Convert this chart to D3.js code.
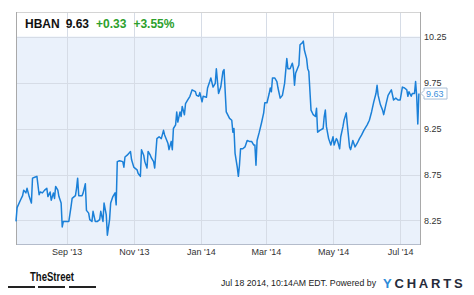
<!DOCTYPE html>
<html>
<head>
<meta charset="utf-8">
<title>HBAN</title>
<style>
  body { margin: 0; background: #fff; }
  svg { display: block; font-family: "Liberation Sans", Arial, sans-serif; }
  .tick text { font-size: 9px; fill: #333; }
</style>
</head>
<body>
<div id="chart"></div>
<script src="https://d3js.org/d3.v7.min.js"></script>
<script>
// --- data ---
var ticker = 'HBAN';
var lastPrice = '9.63';
var change = '+0.33';
var changePct = '+3.55%';
var yTicks = [8.25, 8.75, 9.25, 9.75, 10.25];

var dates = [
  '2013-07-17','2013-07-18','2013-07-21','2013-07-23','2013-07-24','2013-07-26','2013-07-27','2013-07-29','2013-07-31','2013-08-01',
  '2013-08-03','2013-08-05','2013-08-07','2013-08-08','2013-08-10','2013-08-12','2013-08-14','2013-08-15','2013-08-17','2013-08-18',
  '2013-08-20','2013-08-21','2013-08-22','2013-08-24','2013-08-25','2013-08-27','2013-08-28','2013-08-29','2013-09-01','2013-09-03',
  '2013-09-05','2013-09-06','2013-09-09','2013-09-10','2013-09-11','2013-09-12','2013-09-15','2013-09-16','2013-09-18','2013-09-19',
  '2013-09-21','2013-09-22','2013-09-24','2013-09-25','2013-09-27','2013-09-29','2013-10-01','2013-10-02','2013-10-04','2013-10-05',
  '2013-10-07','2013-10-08','2013-10-10','2013-10-11','2013-10-13','2013-10-15','2013-10-16','2013-10-17','2013-10-19','2013-10-22',
  '2013-10-23','2013-10-24','2013-10-26','2013-10-29','2013-10-30','2013-11-01','2013-11-02','2013-11-04','2013-11-05','2013-11-07',
  '2013-11-08','2013-11-10','2013-11-11','2013-11-13','2013-11-14','2013-11-16','2013-11-17','2013-11-19','2013-11-20','2013-11-22',
  '2013-11-24','2013-11-26','2013-11-28','2013-11-29','2013-12-01','2013-12-02','2013-12-03','2013-12-05','2013-12-06','2013-12-07',
  '2013-12-09','2013-12-10','2013-12-11','2013-12-13','2013-12-14','2013-12-15','2013-12-17','2013-12-18','2013-12-20','2013-12-22',
  '2013-12-24','2013-12-27','2013-12-28','2013-12-30','2013-12-31','2014-01-02','2014-01-03','2014-01-06','2014-01-07','2014-01-09',
  '2014-01-10','2014-01-12','2014-01-14','2014-01-15','2014-01-17','2014-01-19','2014-01-21','2014-01-22','2014-01-24','2014-01-27',
  '2014-01-29','2014-01-30','2014-01-31','2014-02-01','2014-02-03','2014-02-04','2014-02-05','2014-02-06','2014-02-08','2014-02-10',
  '2014-02-12','2014-02-14','2014-02-16','2014-02-18','2014-02-19','2014-02-20','2014-02-21','2014-02-23','2014-02-25','2014-02-27',
  '2014-02-28','2014-03-02','2014-03-04','2014-03-05','2014-03-06','2014-03-07','2014-03-09','2014-03-11','2014-03-12','2014-03-14',
  '2014-03-16','2014-03-18','2014-03-20','2014-03-21','2014-03-23','2014-03-25','2014-03-26','2014-03-27','2014-03-28','2014-03-31',
  '2014-04-01','2014-04-03','2014-04-04','2014-04-05','2014-04-07','2014-04-08','2014-04-09','2014-04-11','2014-04-13','2014-04-15',
  '2014-04-16','2014-04-17','2014-04-19','2014-04-22','2014-04-23','2014-04-24','2014-04-25','2014-04-27','2014-04-29','2014-05-01',
  '2014-05-02','2014-05-04','2014-05-05','2014-05-07','2014-05-08','2014-05-10','2014-05-11','2014-05-13','2014-05-14','2014-05-16',
  '2014-05-17','2014-05-18','2014-05-19','2014-05-21','2014-05-23','2014-05-25','2014-05-27','2014-05-29','2014-06-01','2014-06-03',
  '2014-06-05','2014-06-07','2014-06-09','2014-06-10','2014-06-11','2014-06-13','2014-06-15','2014-06-16','2014-06-18','2014-06-20',
  '2014-06-22','2014-06-23','2014-06-25','2014-06-27','2014-06-29','2014-07-01','2014-07-02','2014-07-03','2014-07-05','2014-07-07',
  '2014-07-08','2014-07-09','2014-07-11','2014-07-12','2014-07-14','2014-07-15','2014-07-16','2014-07-17','2014-07-18'
];

var closes = [
  8.24, 8.39, 8.47, 8.52, 8.58, 8.55, 8.60, 8.51, 8.44, 8.71,
  8.72, 8.73, 8.53, 8.56, 8.55, 8.58, 8.60, 8.51, 8.56, 8.47,
  8.55, 8.49, 8.62, 8.58, 8.51, 8.44, 8.18, 8.24, 8.24, 8.24,
  8.40, 8.49, 8.52, 8.60, 8.71, 8.52, 8.52, 8.55, 8.65, 8.36,
  8.33, 8.26, 8.24, 8.35, 8.24, 8.24, 8.26, 8.35, 8.24, 8.44,
  8.31, 8.09, 8.26, 8.44, 8.51, 8.55, 8.42, 8.89, 8.90, 8.89,
  8.83, 8.94, 8.96, 9.00, 8.91, 8.83, 8.82, 8.80, 8.76, 8.73,
  9.02, 8.96, 8.89, 8.82, 9.00, 8.96, 8.93, 8.89, 8.82, 9.14,
  9.16, 9.14, 9.23, 9.18, 9.12, 9.09, 9.02, 9.11, 9.02, 9.25,
  9.29, 9.43, 9.32, 9.43, 9.38, 9.49, 9.40, 9.52, 9.56, 9.60,
  9.67, 9.65, 9.61, 9.60, 9.64, 9.54, 9.60, 9.59, 9.69, 9.76,
  9.80, 9.70, 9.74, 9.90, 9.63, 9.70, 9.87, 9.89, 9.43, 9.36,
  9.34, 9.21, 9.25, 8.98, 8.83, 8.73, 8.85, 9.03, 9.03, 9.05,
  9.12, 9.11, 9.11, 9.07, 9.07, 8.85, 9.12, 9.21, 9.31, 9.42,
  9.53, 9.53, 9.63, 9.69, 9.65, 9.80, 9.80, 9.76, 9.69, 9.58,
  9.61, 9.74, 10.01, 9.90, 9.90, 9.96, 9.90, 9.72, 9.85, 9.94,
  10.16, 10.18, 10.20, 10.10, 10.01, 9.90, 9.87, 9.45, 9.40, 9.38,
  9.47, 9.21, 9.23, 9.25, 9.38, 9.45, 9.27, 9.14, 9.07, 9.16,
  9.07, 9.14, 9.12, 9.03, 9.16, 9.27, 9.34, 9.42, 9.29, 9.05,
  9.02, 9.07, 9.12, 9.05, 9.09, 9.14, 9.18, 9.23, 9.29, 9.34,
  9.43, 9.54, 9.63, 9.72, 9.61, 9.51, 9.45, 9.40, 9.51, 9.61,
  9.65, 9.67, 9.56, 9.58, 9.56, 9.56, 9.63, 9.70, 9.69, 9.67,
  9.60, 9.65, 9.60, 9.63, 9.63, 9.76, 9.60, 9.30, 9.63
];

(function(d3) {
  'use strict';
  var width = 474, height = 295;
  var left = 16, right = 420, top = 12, headBottom = 36.5, bottom = 244;

  var parse = d3.timeParse('%Y-%m-%d');
  var data = d3.zip(dates, closes).map(function(d) {
    return { date: parse(d[0]), close: d[1] };
  });

  var x = d3.scaleTime()
    .domain([parse('2013-07-17'), parse('2014-07-19')])
    .range([left, right]);
  var y = d3.scaleLinear()
    .domain([8.0, 10.25])
    .range([243.5, headBottom]);

  var svg = d3.select('#chart').append('svg')
    .attr('width', width)
    .attr('height', height);

  // plot backgrounds
  svg.append('rect')
    .attr('x', left).attr('y', top)
    .attr('width', right - left).attr('height', headBottom - top)
    .attr('fill', '#fff');
  svg.append('rect')
    .attr('x', left).attr('y', headBottom)
    .attr('width', right - left).attr('height', bottom - headBottom)
    .attr('fill', '#eaf1fb');

  // grid
  var xTicks = x.ticks(d3.timeMonth.every(2));
  svg.append('g').selectAll('line')
    .data(xTicks)
    .enter().append('line')
    .attr('x1', function(d) { return Math.round(x(d)) + 0.5; })
    .attr('x2', function(d) { return Math.round(x(d)) + 0.5; })
    .attr('y1', top).attr('y2', bottom)
    .attr('stroke', '#d6dce6').attr('stroke-width', 1);
  svg.append('g').selectAll('line')
    .data(yTicks)
    .enter().append('line')
    .attr('x1', left).attr('x2', right)
    .attr('y1', function(d) { return Math.round(y(d)) + 0.5; })
    .attr('y2', function(d) { return Math.round(y(d)) + 0.5; })
    .attr('stroke', '#d6dce6').attr('stroke-width', 1);

  // frame
  svg.append('line').attr('x1', left).attr('x2', right).attr('y1', top + 0.5).attr('y2', top + 0.5)
    .attr('stroke', '#d4d4d4');
  svg.append('line').attr('x1', left).attr('x2', right).attr('y1', bottom + 0.5).attr('y2', bottom + 0.5)
    .attr('stroke', '#b4bccb');
  svg.append('line').attr('x1', left + 0.5).attr('x2', left + 0.5).attr('y1', top).attr('y2', bottom + 1)
    .attr('stroke', '#a9a9a9');
  svg.append('line').attr('x1', right + 0.5).attr('x2', right + 0.5).attr('y1', top).attr('y2', bottom + 1)
    .attr('stroke', '#a9a9a9');

  // price line
  var line = d3.line()
    .x(function(d) { return x(d.date); })
    .y(function(d) { return y(d.close); });
  svg.append('path')
    .datum(data)
    .attr('d', line)
    .attr('fill', 'none')
    .attr('stroke', '#1b80d8')
    .attr('stroke-width', 1.5)
    .attr('stroke-linejoin', 'round');

  // axes (labels only)
  var xAxis = d3.axisBottom(x)
    .tickValues(xTicks)
    .tickSize(0)
    .tickPadding(5)
    .tickFormat(d3.timeFormat("%b '%y"));
  svg.append('g')
    .attr('transform', 'translate(0,' + bottom + ')')
    .call(xAxis)
    .call(function(g) { g.select('.domain').remove(); })
    .selectAll('text').attr('font-family', null).attr('font-size', null);

  var yAxis = d3.axisRight(y)
    .tickValues(yTicks)
    .tickSize(0)
    .tickPadding(4)
    .tickFormat(d3.format('.2f'));
  svg.append('g')
    .attr('transform', 'translate(' + right + ',0)')
    .call(yAxis)
    .call(function(g) { g.select('.domain').remove(); })
    .selectAll('text').attr('font-family', null).attr('font-size', null);

  // last value tag
  var last = data[data.length - 1];
  var ty = y(last.close);
  svg.append('path')
    .attr('d', 'M' + (right + 1) + ',' + ty + ' L424,' + (ty - 3) + ' L424,' + (ty - 5.5) +
      ' L447,' + (ty - 5.5) + ' L447,' + (ty + 5.5) + ' L424,' + (ty + 5.5) + ' L424,' + (ty + 3) + ' Z')
    .attr('fill', '#fff')
    .attr('stroke', '#a8bed6')
    .attr('stroke-width', 1);
  svg.append('text')
    .attr('x', 426).attr('y', ty + 3.3)
    .attr('font-size', '9px')
    .attr('fill', '#3d8fdc')
    .text(d3.format('.2f')(last.close));

  // header
  var head = svg.append('text')
    .attr('x', 25).attr('y', 28)
    .attr('font-size', '12px')
    .attr('font-weight', 'bold');
  head.append('tspan').attr('fill', '#111').text(ticker);
  head.append('tspan').attr('fill', '#111').attr('dx', 6).text(lastPrice);
  head.append('tspan').attr('fill', '#2ca02c').attr('dx', 7).text(change);
  head.append('tspan').attr('fill', '#2ca02c').attr('dx', 7).text(changePct);

  // footer: TheStreet logo
  svg.append('text')
    .attr('x', 30).attr('y', 281)
    .attr('font-family', '"Liberation Sans Narrow", "Arial Narrow", sans-serif')
    .attr('font-weight', 'bold')
    .attr('font-size', '12px')
    .attr('textLength', 44)
    .attr('lengthAdjust', 'spacingAndGlyphs')
    .attr('fill', '#111')
    .text('TheStreet');
  svg.append('g').selectAll('rect')
    .data([8, 38, 69])
    .enter().append('rect')
    .attr('x', function(d) { return d; })
    .attr('y', 286)
    .attr('width', 27).attr('height', 2)
    .attr('fill', '#222');

  // footer: timestamp + YCharts
  svg.append('text')
    .attr('x', 221).attr('y', 286)
    .attr('font-size', '9px')
    .attr('textLength', 155)
    .attr('lengthAdjust', 'spacingAndGlyphs')
    .attr('fill', '#222')
    .text('Jul 18 2014, 10:14AM EDT. Powered by');
  var yc = svg.append('text')
    .attr('x', 383).attr('y', 288)
    .attr('font-size', '13px')
    .attr('font-weight', 'bold')
    .attr('letter-spacing', '2.8px');
  yc.append('tspan').attr('fill', '#2b8ad8').text('Y');
  yc.append('tspan').attr('fill', '#262b3a').text('CHARTS');
})(window.d3);
</script>
</body>
</html>
